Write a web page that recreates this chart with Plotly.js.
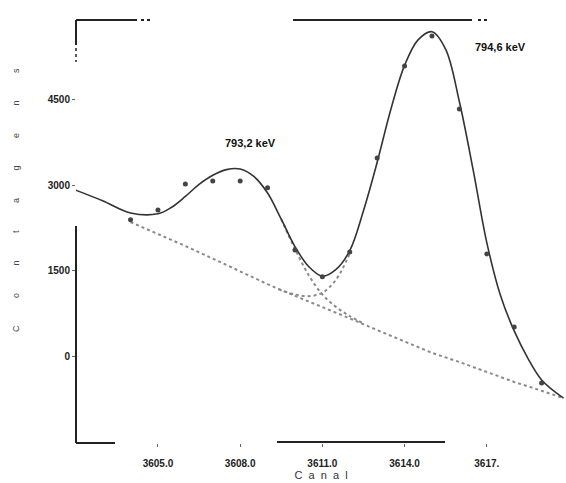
<!DOCTYPE html>
<html>
<head>
<meta charset="utf-8">
<script src="https://cdn.plot.ly/plotly-3.0.1.min.js"></script>
<style>html,body{margin:0;padding:0;background:#fff;}#chart{width:566px;height:483px;}</style>
</head>
<body>
<div id="chart"></div>
<script>
// Measured spectrum points (channel, counts)
const pointChannels = [3604, 3605, 3606, 3607, 3608, 3609, 3610, 3611, 3612, 3613, 3614, 3615, 3616, 3617, 3618, 3619];
const pointCounts   = [2390, 2560, 3020, 3070, 3070, 2950, 1860, 1390, 1825, 3475, 5090, 5615, 4335, 1790, 510, -475];

// Fitted total curve
const fitChannels = [3602, 3603, 3604, 3605, 3605.5, 3606, 3606.5, 3607, 3607.5, 3608, 3608.5, 3609, 3609.5, 3610, 3610.5, 3611, 3611.5, 3612, 3612.5, 3613, 3613.5, 3614, 3614.5, 3615, 3615.5, 3616, 3616.5, 3617, 3617.5, 3618, 3618.5, 3619, 3619.8];
const fitCounts   = [2910, 2720, 2510, 2495, 2610, 2800, 3010, 3170, 3270, 3280, 3150, 2860, 2400, 1920, 1570, 1400, 1520, 1850, 2550, 3400, 4330, 5100, 5550, 5690, 5380, 4460, 3270, 1990, 1060, 440, -40, -420, -740];

// Background (dotted)
const bgChannels = [3604, 3605, 3606, 3607, 3608, 3609, 3610, 3611, 3612, 3613, 3614, 3615, 3616, 3617, 3618, 3619, 3619.8];
const bgCounts   = [2350, 2145, 1930, 1710, 1480, 1260, 1055, 860, 660, 455, 250, 55, -105, -280, -455, -610, -740];

// Peak 1 component + background (dotted)
const peak1Channels = [3609.5, 3610, 3610.5, 3611, 3611.5, 3612, 3612.5];
const peak1Counts   = [2400, 1880, 1420, 1080, 860, 700, 570];

// Peak 2 component + background (dotted)
const peak2Channels = [3609.4, 3610, 3610.5, 3611, 3611.5, 3612];
const peak2Counts   = [1170, 1080, 1050, 1110, 1340, 1800];

// Axis ticks
const xTickVals  = [3605, 3608, 3611, 3614, 3617];
const xTickText  = ["3605.0", "3608.0", "3611.0", "3614.0", "3617."];
const yTickVals  = [0, 1500, 3000, 4500];
const yTickText  = ["0", "1500", "3000", "4500"];

// Peak labels
const peakLabels = ["793,2 keV", "794,6 keV"];

const W = 566, H = 483, L = 76, R = 0, T = 20, B = 40;
const pw = W - L - R, ph = H - T - B;
const px = x => (x - L) / pw;
const py = y => (H - B - y) / ph;

const dotLine = {color: '#8a8a8a', width: 2, dash: 'dot'};

const traces = [
  {x: bgChannels, y: bgCounts, mode: 'lines', line: dotLine, hoverinfo: 'skip'},
  {x: peak1Channels, y: peak1Counts, mode: 'lines', line: Object.assign({}, dotLine, {shape: 'spline'}), hoverinfo: 'skip'},
  {x: peak2Channels, y: peak2Counts, mode: 'lines', line: Object.assign({}, dotLine, {shape: 'spline'}), hoverinfo: 'skip'},
  {x: fitChannels, y: fitCounts, mode: 'lines', line: {color: '#333', width: 1.6, shape: 'spline', smoothing: 1}, hoverinfo: 'skip'},
  {x: pointChannels, y: pointCounts, mode: 'markers', marker: {color: '#444', size: 5}, hoverinfo: 'skip'}
];

function seg(x0, y0, x1, y1, w, dash) {
  return {type: 'line', xref: 'paper', yref: 'paper', x0: px(x0), y0: py(y0), x1: px(x1), y1: py(y1),
          line: {color: '#222', width: w || 2, dash: dash || 'solid'}};
}

const shapes = [
  seg(76, 20, 137, 20), seg(141, 20, 152, 20, 2, 'dot'),
  seg(293, 20, 472, 20), seg(478, 20, 490, 20, 2, 'dot'),
  seg(76, 20, 76, 45), seg(76, 48, 76, 62, 1.5, 'dot'),
  seg(76, 226, 76, 443),
  seg(76, 443, 115, 443),
  {type: 'path', xref: 'paper', yref: 'paper', layer: 'above',
   path: 'M' + px(277) + ',' + py(442) + ' L' + px(445) + ',' + py(442),
   line: {color: '#222', width: 2}}
];

const sp = '&nbsp;'.repeat(11);
const yTitle = ['C','o','n','t','a','g','e','n','s'].join(sp);

const layout = {
  width: W, height: H,
  margin: {l: L, r: R, t: T, b: B, pad: 0},
  paper_bgcolor: '#fff', plot_bgcolor: '#fff',
  showlegend: false,
  font: {family: 'Liberation Sans, Arial, sans-serif', color: '#111'},
  xaxis: {
    range: [3602.01, 3619.89], showgrid: false, zeroline: false, showline: false,
    tickvals: xTickVals, ticktext: xTickText, ticks: 'outside', ticklen: 3, tickcolor: '#666',
    ticklabelstandoff: 8,
    tickfont: {size: 10, weight: 'bold', color: '#222'},
    title: {text: 'C&nbsp;&nbsp;a&nbsp;&nbsp;n&nbsp;&nbsp;a&nbsp;&nbsp;l', font: {size: 11, color: '#333'}, standoff: 3}
  },
  yaxis: {
    range: [-1526, 5895], showgrid: false, zeroline: false, showline: false,
    tickvals: yTickVals, ticktext: yTickText, ticks: 'outside', ticklen: 3, tickcolor: '#666',
    tickfont: {size: 10, weight: 'bold', color: '#222'}
  },
  shapes: shapes,
  annotations: [
    {xref: 'paper', yref: 'paper', x: px(250), y: py(143), xanchor: 'center', yanchor: 'middle', text: peakLabels[0], showarrow: false,
     font: {size: 11, weight: 'bold', color: '#111', family: 'Liberation Sans, Arial, sans-serif'}},
    {xref: 'paper', yref: 'paper', x: px(500), y: py(47), xanchor: 'center', yanchor: 'middle', text: peakLabels[1], showarrow: false,
     font: {size: 11, weight: 'bold', color: '#111', family: 'Liberation Sans, Arial, sans-serif'}},
    {xref: 'paper', yref: 'paper', x: px(16), y: py(200), xanchor: 'center', yanchor: 'middle', text: yTitle,
     textangle: -90, showarrow: false, font: {size: 9, color: '#444'}}
  ]
};

Plotly.newPlot('chart', traces, layout, {displayModeBar: false, staticPlot: true});
</script>
</body>
</html>
